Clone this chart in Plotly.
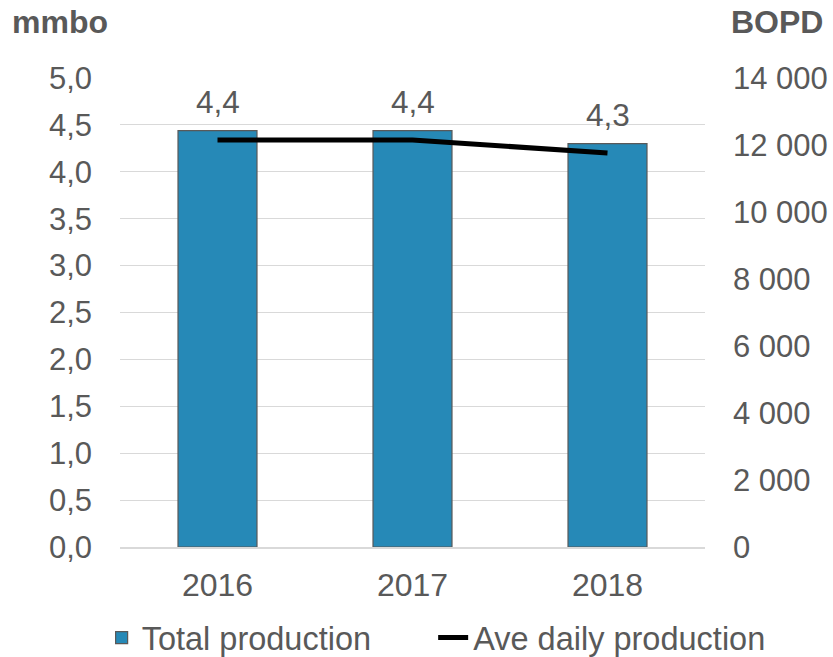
import plotly.graph_objects as go

years = ["2016", "2017", "2018"]
total_production = [4.44, 4.44, 4.30]
ave_daily = [12150, 12150, 11760]
bar_labels = ["4,4", "4,4", "4,3"]

TXT = "#595959"
FONT = "Liberation Sans, Arial, sans-serif"
FS = 32

fig = go.Figure()
fig.add_trace(go.Bar(
    x=years, y=total_production, name="Total production",
    marker=dict(color="#2689B7", line=dict(color="#595959", width=1.2)),
    width=0.405, yaxis="y", legend="legend",
))
fig.add_trace(go.Scatter(
    x=years, y=ave_daily, name="Ave daily production", mode="lines",
    line=dict(color="#000000", width=5), yaxis="y2", legend="legend2",
))

# category axis: annotation x given as category index
for i, (v, t) in enumerate(zip(total_production, bar_labels)):
    fig.add_annotation(x=i, y=v, text=t, showarrow=False, yanchor="bottom",
                       yshift=9, font=dict(size=31.5, color=TXT, family=FONT),
                       xref="x", yref="y")

fig.add_annotation(xref="paper", yref="paper", x=-0.188, y=1.0, yshift=56,
                   text="<b>mmbo</b>", showarrow=False, xanchor="left", yanchor="middle",
                   font=dict(size=32, color=TXT, family=FONT))
fig.add_annotation(xref="paper", yref="paper", x=1.205, y=1.0, yshift=56,
                   text="<b>BOPD</b>", showarrow=False, xanchor="right", yanchor="middle",
                   font=dict(size=32, color=TXT, family=FONT))

leg_common = dict(orientation="h", xref="container", yref="container",
                  xanchor="left", y=0.029, yanchor="middle",
                  font=dict(size=32.5, color=TXT), itemwidth=30)

fig.update_layout(
    width=833, height=657,
    margin=dict(l=120, r=128, t=78, b=110, autoexpand=False),
    plot_bgcolor="white", paper_bgcolor="white",
    separators=", ",
    font=dict(family=FONT, size=FS, color=TXT),
    showlegend=True,
    legend=dict(x=0.122, **leg_common),
    legend2=dict(x=0.52, **leg_common),
    xaxis=dict(type="category", range=[-0.5, 2.5], showgrid=False, showline=True,
               linecolor="#d9d9d9", linewidth=1.5, ticks="", ticklabelstandoff=9,
               tickfont=dict(size=FS, color=TXT)),
    yaxis=dict(range=[0, 5], dtick=0.5, tickformat=".1f", showgrid=True,
               gridcolor="#d9d9d9", gridwidth=1.3, zeroline=False, showline=False,
               ticklabelstandoff=27, tickfont=dict(size=31, color=TXT)),
    yaxis2=dict(range=[0, 14000], dtick=2000, tickformat=",d", overlaying="y",
                side="right", showgrid=False, zeroline=False, showline=False,
                ticklabelstandoff=27, tickfont=dict(size=31, color=TXT)),
)

fig.write_html("out.html", config={"displayModeBar": False},
               post_script="document.body.style.margin='0';document.body.style.overflow='hidden';")
